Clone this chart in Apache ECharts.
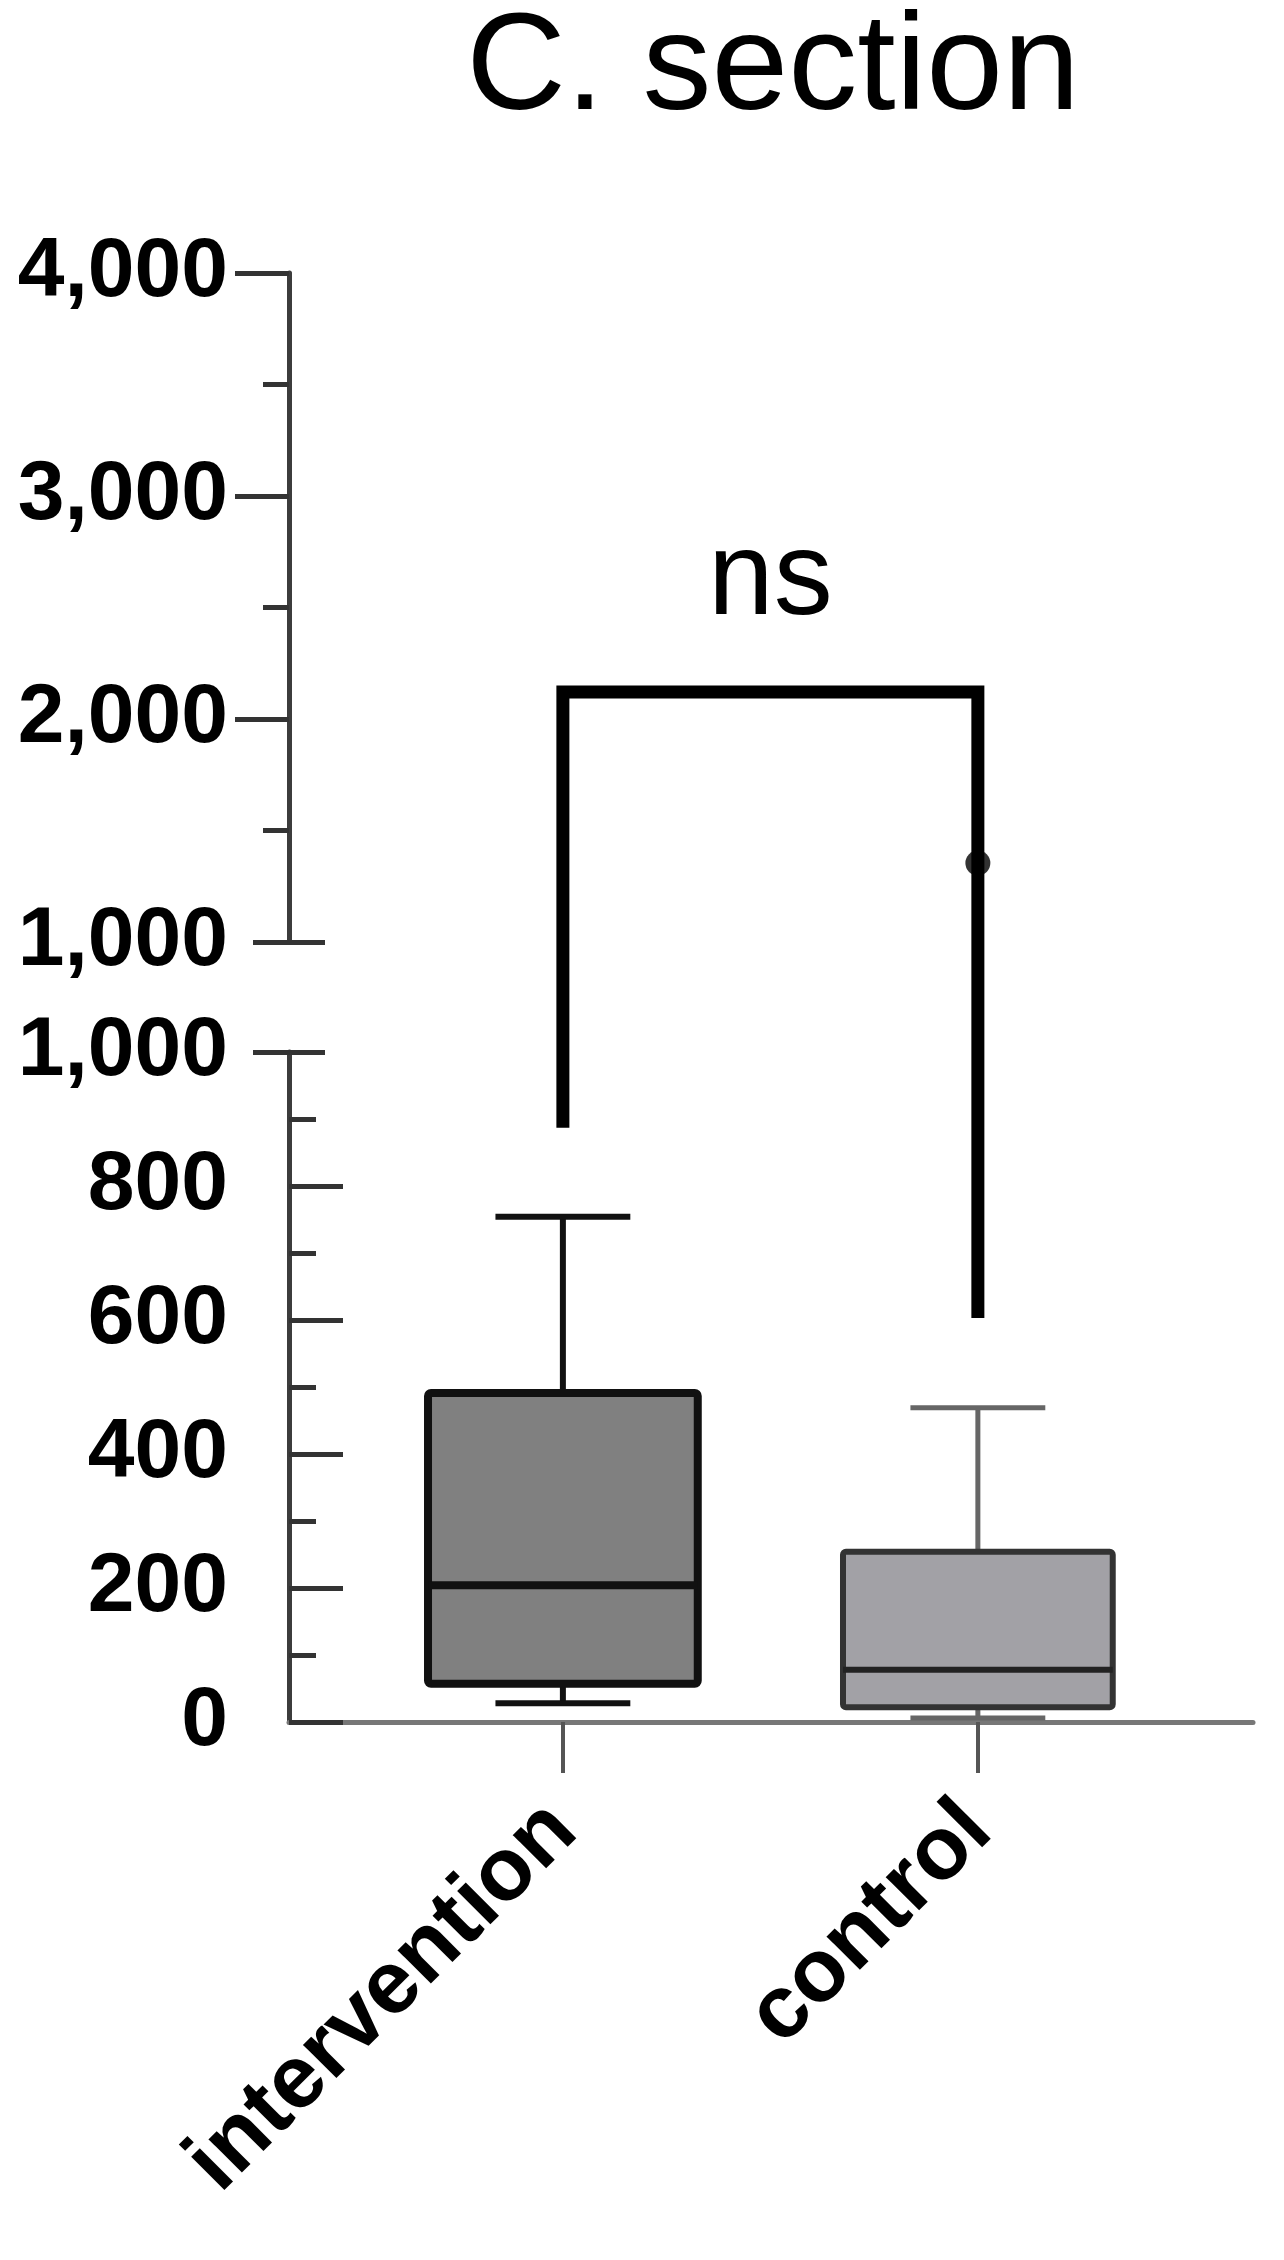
<!DOCTYPE html>
<html>
<head>
<meta charset="utf-8">
<title>C. section</title>
<script src="https://cdn.jsdelivr.net/npm/echarts@6/dist/echarts.min.js"></script>
<style>
    html, body { margin: 0; padding: 0; background: #fff; }
    #chart { width: 1284px; height: 2260px; }
</style>
</head>
<body>
<div id="chart"></div>
<script>
    const titleText = 'C. section';
    const categories = ['intervention', 'control'];
    const categoryPos = [1, 2];
    // [min, Q1, median, Q3, max]
    const boxStats = [
        [28, 57, 204, 491, 754],
        [6, 22, 78, 254, 469],
    ];
    // [category position, value]
    const outliers = [[2, 1354]];
    const lowerTicks = [0, 200, 400, 600, 800];
    const upperTicks = [2000, 3000, 4000];
    const breakTicks = [1000];
    // [from, to, top, left end, right end]
    const bracket = [[1, 2, 2121, 887, 603]];
    const bracketText = 'ns';

    const font = '"Liberation Sans", Arial, sans-serif';
    const boxStyles = [
        { fill: '#808080', border: '#111', borderWidth: 8, median: '#111', medianWidth: 8, whisker: '#111', whiskerWidth: 6 },
        { fill: '#a2a1a6', border: '#333', borderWidth: 6, median: '#222', medianWidth: 6, whisker: '#666', whiskerWidth: 5 },
    ];

    const chart = echarts.init(document.getElementById('chart'));

    function thousands(v) {
        return v.toLocaleString('en-US');
    }

    // axes that only draw the short break marks at 1,000
    function breakAxis(gridIndex, min, max, inside) {
        return {
            type: 'value',
            gridIndex: gridIndex,
            position: 'left',
            min: min,
            max: max,
            interval: max - min,
            axisLine: { show: false },
            axisLabel: { show: false },
            splitLine: { show: false },
            axisTick: {
                show: true,
                inside: inside,
                length: 36,
                customValues: breakTicks,
                lineStyle: { color: '#333', width: 5 },
            },
        };
    }

    function renderBox(params, api) {
        const st = boxStyles[params.dataIndex];
        const x = api.value(0);
        const lo = api.coord([x, api.value(1)]);
        const q1 = api.coord([x, api.value(2)]);
        const med = api.coord([x, api.value(3)]);
        const q3 = api.coord([x, api.value(4)]);
        const hi = api.coord([x, api.value(5)]);
        const boxW = api.size([0.65, 0])[0];
        const capW = api.size([0.325, 0])[0];
        const cx = lo[0];
        const whisker = { stroke: st.whisker, lineWidth: st.whiskerWidth };
        return {
            type: 'group',
            children: [
                { type: 'line', shape: { x1: cx, y1: q3[1], x2: cx, y2: hi[1] }, style: whisker },
                { type: 'line', shape: { x1: cx - capW / 2, y1: hi[1], x2: cx + capW / 2, y2: hi[1] }, style: whisker },
                { type: 'line', shape: { x1: cx, y1: q1[1], x2: cx, y2: lo[1] }, style: whisker },
                { type: 'line', shape: { x1: cx - capW / 2, y1: lo[1], x2: cx + capW / 2, y2: lo[1] }, style: whisker },
                {
                    type: 'rect',
                    shape: { x: cx - boxW / 2, y: q3[1], width: boxW, height: q1[1] - q3[1], r: 3 },
                    style: { fill: st.fill, stroke: st.border, lineWidth: st.borderWidth },
                },
                {
                    type: 'line',
                    shape: { x1: cx - boxW / 2, y1: med[1], x2: cx + boxW / 2, y2: med[1] },
                    style: { stroke: st.median, lineWidth: st.medianWidth },
                },
            ],
        };
    }

    function renderBracket(params, api) {
        const x1 = api.value(0);
        const x2 = api.value(1);
        const tl = api.coord([x1, api.value(2)]);
        const tr = api.coord([x2, api.value(2)]);
        // the legs go down into the lower (0-1,000) panel
        const bl = chart.convertToPixel({ xAxisIndex: 1, yAxisIndex: 1 }, [x1, api.value(3)]);
        const br = chart.convertToPixel({ xAxisIndex: 1, yAxisIndex: 1 }, [x2, api.value(4)]);
        return {
            type: 'group',
            children: [
                {
                    type: 'polyline',
                    shape: { points: [bl, tl, tr, br] },
                    style: { stroke: '#000', lineWidth: 13, fill: null, lineJoin: 'miter' },
                },
                {
                    type: 'text',
                    x: (tl[0] + tr[0]) / 2,
                    y: tl[1] - 52,
                    style: {
                        text: bracketText,
                        fill: '#000',
                        font: '118px ' + font,
                        align: 'center',
                        verticalAlign: 'bottom',
                    },
                },
            ],
        };
    }

    const xBase = {
        type: 'value',
        min: 0.34,
        max: 2.663,
        splitLine: { show: false },
    };

    chart.setOption({
        animation: false,
        backgroundColor: '#fff',
        title: {
            text: titleText,
            left: 773,
            top: 2,
            padding: 0,
            textAlign: 'center',
            textStyle: { fontFamily: font, fontSize: 138, fontWeight: 'normal', color: '#000' },
        },
        grid: [
            { left: 289, right: 31, top: 273, height: 669 },
            { left: 289, right: 31, top: 1052, height: 670 },
        ],
        xAxis: [
            Object.assign({}, xBase, { gridIndex: 0, show: false }),
            Object.assign({}, xBase, {
                gridIndex: 1,
                position: 'bottom',
                axisLine: { show: true, onZero: false, lineStyle: { color: '#777', width: 5 } },
                axisTick: {
                    show: true,
                    length: 51,
                    customValues: categoryPos,
                    lineStyle: { color: '#555', width: 4 },
                },
                axisLabel: {
                    show: true,
                    customValues: categoryPos,
                    rotate: 45,
                    margin: 95,
                    fontFamily: font,
                    fontSize: 89,
                    fontWeight: 'bold',
                    color: '#000',
                    formatter: function (v) {
                        return categories[categoryPos.indexOf(v)];
                    },
                },
            }),
        ],
        yAxis: [
            {
                type: 'value',
                gridIndex: 0,
                position: 'left',
                min: 1000,
                max: 4000,
                interval: 1000,
                splitLine: { show: false },
                axisLine: { show: true, lineStyle: { color: '#3c3c3c', width: 5 } },
                axisTick: { show: true, inside: false, length: 54, customValues: upperTicks, lineStyle: { color: '#333', width: 5 } },
                minorTick: { show: true, splitNumber: 2, length: 26, lineStyle: { color: '#333', width: 5 } },
                axisLabel: {
                    margin: 61,
                    fontFamily: font,
                    fontSize: 84,
                    fontWeight: 'bold',
                    color: '#000',
                    formatter: thousands,
                },
            },
            {
                type: 'value',
                gridIndex: 1,
                position: 'left',
                min: 0,
                max: 1000,
                interval: 200,
                splitLine: { show: false },
                axisLine: { show: true, onZero: false, lineStyle: { color: '#3c3c3c', width: 5 } },
                axisTick: { show: true, inside: true, length: 54, customValues: lowerTicks, lineStyle: { color: '#333', width: 5 } },
                minorTick: { show: true, splitNumber: 2, length: 27, lineStyle: { color: '#333', width: 5 } },
                axisLabel: {
                    margin: 61,
                    fontFamily: font,
                    fontSize: 84,
                    fontWeight: 'bold',
                    color: '#000',
                    formatter: thousands,
                },
            },
            breakAxis(0, 1000, 4000, false),
            breakAxis(0, 1000, 4000, true),
            breakAxis(1, 0, 1000, false),
            breakAxis(1, 0, 1000, true),
        ],
        series: [
            {
                name: 'box',
                type: 'custom',
                xAxisIndex: 1,
                yAxisIndex: 1,
                renderItem: renderBox,
                data: boxStats.map(function (s, i) {
                    return [categoryPos[i]].concat(s);
                }),
                z: 3,
            },
            {
                name: 'outlier',
                type: 'scatter',
                xAxisIndex: 0,
                yAxisIndex: 0,
                symbolSize: 25,
                itemStyle: { color: '#000' },
                data: outliers,
                z: 5,
            },
            {
                name: 'significance',
                type: 'custom',
                xAxisIndex: 0,
                yAxisIndex: 0,
                renderItem: renderBracket,
                data: bracket,
                z: 4,
            },
        ],
    });
</script>
</body>
</html>
